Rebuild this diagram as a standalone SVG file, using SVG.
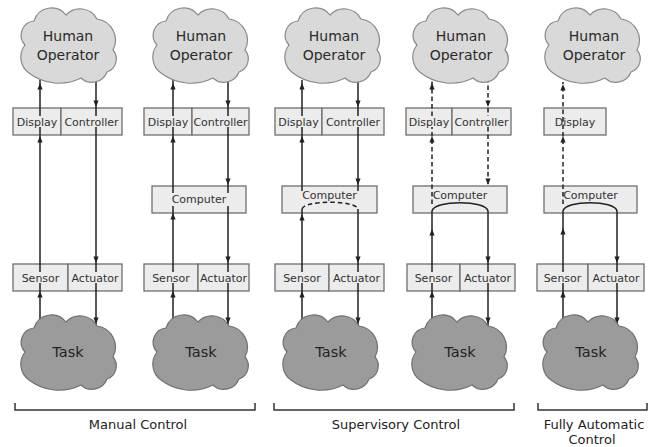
<svg xmlns="http://www.w3.org/2000/svg" xmlns:xlink="http://www.w3.org/1999/xlink" width="654" height="447" viewBox="0 0 654 447">
<style>
  .box { fill:#ececec; stroke:#6f6f6f; stroke-width:1.3; }
  .bt { font-family:"DejaVu Sans","Liberation Sans",sans-serif; font-size:11px; fill:#333; text-anchor:middle; }
  .ho { fill:#d9d9d9; stroke:#8a8a8a; stroke-width:1.2; }
  .task { fill:#9b9b9b; stroke:#707070; stroke-width:1.2; }
  .ct { font-family:"DejaVu Sans","Liberation Sans",sans-serif; font-size:14px; fill:#2a2a2a; text-anchor:middle; }
  .tt { font-family:"DejaVu Sans","Liberation Sans",sans-serif; font-size:14.5px; fill:#222; text-anchor:middle; }
  .wire { fill:none; stroke:#222; stroke-width:1.5; }
  .dash { fill:none; stroke:#222; stroke-width:1.5; stroke-dasharray:4.5,3; }
  .ah { fill:#222; }
  .br { fill:none; stroke:#333; stroke-width:1.5; }
  .lb { font-family:"DejaVu Sans","Liberation Sans",sans-serif; font-size:13px; fill:#222; text-anchor:middle; }
</style>
<defs>
  <path id="cloud" d="M-35,-24 A18.3,18.3 0 0 1 -3,-30 A19.2,19.2 0 0 1 28,-26 A21.3,21.3 0 0 1 44,5 A13.8,13.8 0 0 1 38,27 A16.1,16.1 0 0 1 12,33 A49,49 0 0 1 -40,28 A19.6,19.6 0 0 1 -44,0 A14.3,14.3 0 0 1 -35,-24 Z"/>
  <path id="up" class="ah" d="M0,0 L-2.6,6.5 L2.6,6.5 Z"/>
  <path id="dn" class="ah" d="M0,0 L-2.6,-6.5 L2.6,-6.5 Z"/>
</defs>

<!-- Column 1 boxes -->
<g id="c1-display"><rect class="box" x="13" y="108" width="48" height="27"/><text class="bt" x="37" y="125.5">Display</text></g>
<g id="c1-controller"><rect class="box" x="61" y="108" width="61" height="27"/><text class="bt" x="91.5" y="125.5">Controller</text></g>
<g id="c1-sensor"><rect class="box" x="13" y="264" width="55" height="27"/><text class="bt" x="40.5" y="281.5">Sensor</text></g>
<g id="c1-actuator"><rect class="box" x="68" y="264" width="54" height="27"/><text class="bt" x="95" y="281.5">Actuator</text></g>

<!-- Column 2 boxes -->
<g id="c2-display"><rect class="box" x="144" y="108" width="48" height="27"/><text class="bt" x="168" y="125.5">Display</text></g>
<g id="c2-controller"><rect class="box" x="192" y="108" width="57" height="27"/><text class="bt" x="220.5" y="125.5">Controller</text></g>
<g id="c2-computer"><rect class="box" x="152" y="186" width="94" height="27"/><text class="bt" x="199" y="203">Computer</text></g>
<g id="c2-sensor"><rect class="box" x="144" y="264" width="54" height="27"/><text class="bt" x="171" y="281.5">Sensor</text></g>
<g id="c2-actuator"><rect class="box" x="198" y="264" width="51" height="27"/><text class="bt" x="223.5" y="281.5">Actuator</text></g>

<!-- Column 3 boxes -->
<g id="c3-display"><rect class="box" x="275" y="108" width="47" height="27"/><text class="bt" x="298.5" y="125.5">Display</text></g>
<g id="c3-controller"><rect class="box" x="322" y="108" width="62" height="27"/><text class="bt" x="353" y="125.5">Controller</text></g>
<g id="c3-computer"><rect class="box" x="282" y="186" width="95" height="27"/><text class="bt" x="329.5" y="199">Computer</text></g>
<g id="c3-sensor"><rect class="box" x="275" y="264" width="54" height="27"/><text class="bt" x="302" y="281.5">Sensor</text></g>
<g id="c3-actuator"><rect class="box" x="329" y="264" width="55" height="27"/><text class="bt" x="356.5" y="281.5">Actuator</text></g>

<!-- Column 4 boxes -->
<g id="c4-display"><rect class="box" x="406" y="108" width="46" height="27"/><text class="bt" x="429" y="125.5">Display</text></g>
<g id="c4-controller"><rect class="box" x="452" y="108" width="59" height="27"/><text class="bt" x="481.5" y="125.5">Controller</text></g>
<g id="c4-computer"><rect class="box" x="413" y="186" width="94" height="27"/><text class="bt" x="460" y="199">Computer</text></g>
<g id="c4-sensor"><rect class="box" x="407" y="264" width="53" height="27"/><text class="bt" x="433.5" y="281.5">Sensor</text></g>
<g id="c4-actuator"><rect class="box" x="460" y="264" width="55" height="27"/><text class="bt" x="487.5" y="281.5">Actuator</text></g>

<!-- Column 5 boxes -->
<g id="c5-display"><rect class="box" x="544" y="108" width="62" height="27"/><text class="bt" x="575" y="125.5">Display</text></g>
<g id="c5-computer"><rect class="box" x="544" y="186" width="93" height="27"/><text class="bt" x="590.5" y="199">Computer</text></g>
<g id="c5-sensor"><rect class="box" x="537" y="264" width="51" height="27"/><text class="bt" x="562.5" y="281.5">Sensor</text></g>
<g id="c5-actuator"><rect class="box" x="588" y="264" width="56" height="27"/><text class="bt" x="616" y="281.5">Actuator</text></g>

<!-- Connectors -->
<g id="connectors">
  <!-- column 1 -->
  <path class="wire" d="M40,325 V283 M40,272 V127 M40,116 V80"/>
  <path class="wire" d="M96,78 V116 M96,127 V272 M96,283 V326"/>
  <use xlink:href="#up" x="40" y="291"/><use xlink:href="#up" x="40" y="136"/><use xlink:href="#up" x="40" y="83"/>
  <use xlink:href="#dn" x="96" y="107"/><use xlink:href="#dn" x="96" y="263"/><use xlink:href="#dn" x="96" y="324"/>
  <!-- column 2 -->
  <path class="wire" d="M173,325 V283 M173,272 V206 M173,193 V127 M173,116 V80"/>
  <path class="wire" d="M228,78 V116 M228,127 V193 M228,206 V272 M228,283 V326"/>
  <use xlink:href="#up" x="173" y="291"/><use xlink:href="#up" x="173" y="213"/><use xlink:href="#up" x="173" y="136"/><use xlink:href="#up" x="173" y="83"/>
  <use xlink:href="#dn" x="228" y="107"/><use xlink:href="#dn" x="228" y="185"/><use xlink:href="#dn" x="228" y="263"/><use xlink:href="#dn" x="228" y="324"/>
  <!-- column 3 -->
  <path class="wire" d="M302,325 V283 M302,272 V209 M302,191 V127 M302,116 V80"/>
  <path class="wire" d="M358,78 V116 M358,127 V191 M358,209 V272 M358,283 V326"/>
  <path class="dash" d="M302,209 C304,200 356,200 358,209"/>
  <use xlink:href="#up" x="302" y="214"/><use xlink:href="#up" x="302" y="136"/><use xlink:href="#up" x="302" y="83"/><use xlink:href="#up" x="302" y="291"/>
  <use xlink:href="#dn" x="358" y="107"/><use xlink:href="#dn" x="358" y="185"/><use xlink:href="#dn" x="358" y="263"/><use xlink:href="#dn" x="358" y="324"/>
  <!-- column 4 -->
  <path class="wire" d="M432,325 V283 M432,272 V211 C434,200 486,200 488,211 V272 M488,283 V326"/>
  <path class="dash" d="M432,204 V127 M432,116 V80"/>
  <path class="dash" d="M488,78 V116 M488,127 V186"/>
  <use xlink:href="#up" x="432" y="291"/><use xlink:href="#up" x="432" y="229"/><use xlink:href="#up" x="432" y="136"/><use xlink:href="#up" x="432" y="83"/>
  <use xlink:href="#dn" x="488" y="107"/><use xlink:href="#dn" x="488" y="185"/><use xlink:href="#dn" x="488" y="263"/><use xlink:href="#dn" x="488" y="324"/>
  <!-- column 5 -->
  <path class="wire" d="M563,325 V283 M563,272 V211 C565,200 615,200 617,211 V272 M617,283 V326"/>
  <path class="dash" d="M563,204 V82"/>
  <use xlink:href="#up" x="563" y="291"/><use xlink:href="#up" x="563" y="228"/><use xlink:href="#up" x="563" y="136"/><use xlink:href="#up" x="563" y="84"/>
  <use xlink:href="#dn" x="617" y="263"/><use xlink:href="#dn" x="617" y="324"/>
</g>

<!-- Human operator clouds -->
<g id="c1-human"><use xlink:href="#cloud" class="ho" transform="translate(69,45)"/><text class="ct" x="68" y="41">Human</text><text class="ct" x="68" y="60">Operator</text></g>
<g id="c2-human"><use xlink:href="#cloud" class="ho" transform="translate(201,45)"/><text class="ct" x="201" y="41">Human</text><text class="ct" x="201" y="60">Operator</text></g>
<g id="c3-human"><use xlink:href="#cloud" class="ho" transform="translate(333,45)"/><text class="ct" x="334" y="41">Human</text><text class="ct" x="334" y="60">Operator</text></g>
<g id="c4-human"><use xlink:href="#cloud" class="ho" transform="translate(461,45)"/><text class="ct" x="461" y="41">Human</text><text class="ct" x="461" y="60">Operator</text></g>
<g id="c5-human"><use xlink:href="#cloud" class="ho" transform="translate(593,45)"/><text class="ct" x="594" y="41">Human</text><text class="ct" x="594" y="60">Operator</text></g>

<!-- Task clouds -->
<g id="c1-task"><use xlink:href="#cloud" class="task" transform="translate(69,352)"/><text class="tt" x="68" y="357">Task</text></g>
<g id="c2-task"><use xlink:href="#cloud" class="task" transform="translate(201,352)"/><text class="tt" x="201" y="357">Task</text></g>
<g id="c3-task"><use xlink:href="#cloud" class="task" transform="translate(331,352)"/><text class="tt" x="331" y="357">Task</text></g>
<g id="c4-task"><use xlink:href="#cloud" class="task" transform="translate(460,352)"/><text class="tt" x="460" y="357">Task</text></g>
<g id="c5-task"><use xlink:href="#cloud" class="task" transform="translate(591,352)"/><text class="tt" x="591" y="357">Task</text></g>

<!-- Category brackets -->
<g id="manual">
  <path class="br" d="M15,403 V410 H255 V403"/>
  <text class="lb" x="138" y="429">Manual Control</text>
</g>
<g id="supervisory">
  <path class="br" d="M274,403 V410 H514 V403"/>
  <text class="lb" x="396" y="429">Supervisory Control</text>
</g>
<g id="automatic">
  <path class="br" d="M538,403 V410 H647 V403"/>
  <text class="lb" x="594" y="429">Fully Automatic</text>
  <text class="lb" x="592" y="444">Control</text>
</g>
</svg>
